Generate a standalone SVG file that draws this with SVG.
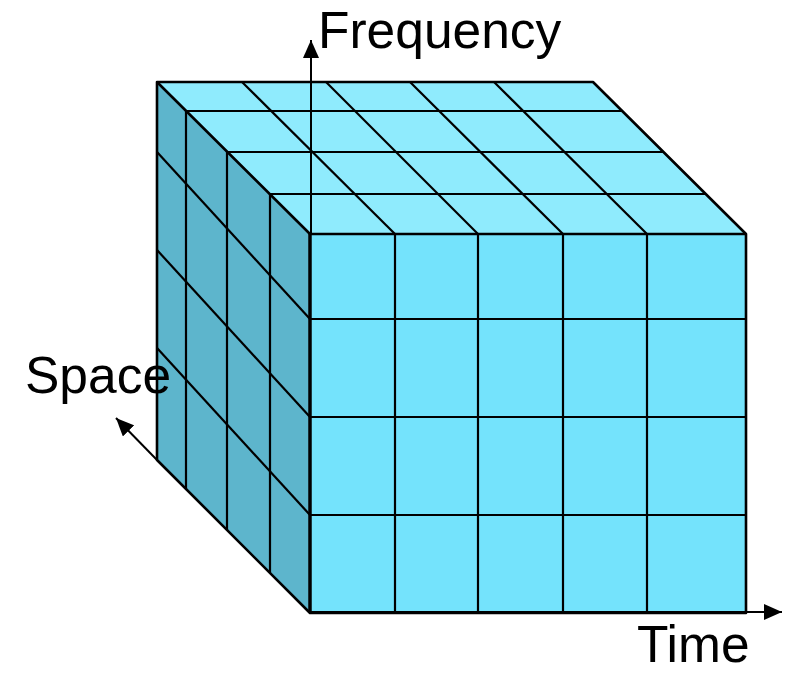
<svg xmlns="http://www.w3.org/2000/svg" width="785" height="673" viewBox="0 0 785 673">
<style>
.ln{stroke:#000;stroke-width:2.2;fill:none}
.edge{stroke:#000;stroke-width:2.6;fill:none;stroke-linejoin:round}
.top{fill:#8FEBFD}
.front{fill:#74E3FC}
.left{fill:#5DB5CC}
.axis{stroke:#000;stroke-width:2;fill:none}
.lbl{font-family:"Liberation Sans",Arial,sans-serif;font-size:51.5px;fill:#000}
</style>
<defs>
<marker id="ah" markerUnits="userSpaceOnUse" markerWidth="19" markerHeight="16" refX="18" refY="8" orient="auto">
<path d="M0,0 L18,8 L0,16 z" fill="#000"/>
</marker>
</defs>
<rect width="785" height="673" fill="#fff"/>
<g id="cube">
<polygon class="left" points="157,82 310,234 310,613 157,460"/>
<polygon class="top" points="157,82 593,82 746,234 310,234"/>
<rect class="front" x="310" y="234" width="436" height="379"/>
<g id="top-grid">
<line class="ln" x1="186" y1="111" x2="622" y2="111"/>
<line class="ln" x1="227" y1="152" x2="663" y2="152"/>
<line class="ln" x1="270" y1="194" x2="705" y2="194"/>
<line class="ln" x1="242" y1="82" x2="395" y2="234"/>
<line class="ln" x1="326" y1="82" x2="478" y2="234"/>
<line class="ln" x1="410" y1="82" x2="563" y2="234"/>
<line class="ln" x1="494" y1="82" x2="647" y2="234"/>
</g>
<g id="left-grid">
<line class="ln" x1="186" y1="111" x2="186" y2="489"/>
<line class="ln" x1="227" y1="152" x2="227" y2="530"/>
<line class="ln" x1="270" y1="194" x2="270" y2="573"/>
<line class="ln" x1="157" y1="152" x2="310" y2="319"/>
<line class="ln" x1="157" y1="250" x2="310" y2="417"/>
<line class="ln" x1="157" y1="348" x2="310" y2="515"/>
</g>
<g id="front-grid">
<line class="ln" x1="395" y1="234" x2="395" y2="613"/>
<line class="ln" x1="478" y1="234" x2="478" y2="613"/>
<line class="ln" x1="563" y1="234" x2="563" y2="613"/>
<line class="ln" x1="647" y1="234" x2="647" y2="613"/>
<line class="ln" x1="310" y1="319" x2="746" y2="319"/>
<line class="ln" x1="310" y1="417" x2="746" y2="417"/>
<line class="ln" x1="310" y1="515" x2="746" y2="515"/>
</g>
<g id="outline">
<polygon class="edge" points="157,82 593,82 746,234 746,613 310,613 157,460"/>
<polyline class="edge" points="157,82 310,234 746,234"/>
<line class="edge" x1="310" y1="234" x2="310" y2="613" style="stroke-width:3.5"/>
</g>
</g>
<g id="axes">
<line id="axis-frequency" class="axis" x1="311" y1="234" x2="311" y2="40" marker-end="url(#ah)"/>
<line id="axis-time" class="axis" x1="310" y1="612" x2="782" y2="612" marker-end="url(#ah)"/>
<line id="axis-space" class="axis" x1="157" y1="460" x2="116" y2="418" marker-end="url(#ah)"/>
</g>
<g id="labels">
<text class="lbl" x="318" y="48">Frequency</text>
<text class="lbl" x="25" y="393">Space</text>
<text class="lbl" x="637" y="662">Time</text>
</g>
</svg>
